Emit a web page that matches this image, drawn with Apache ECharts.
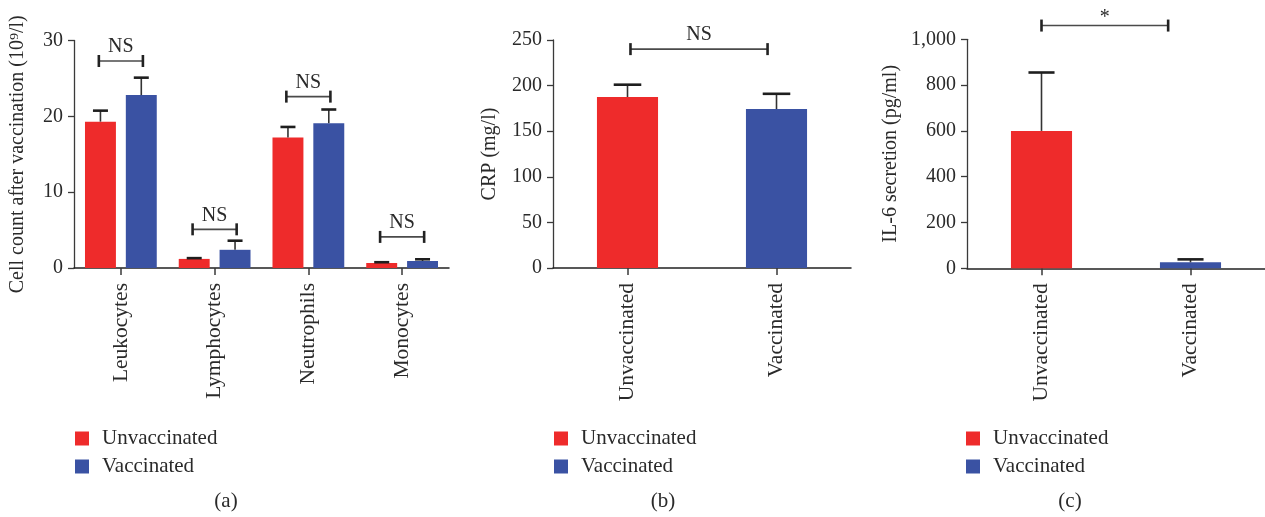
<!DOCTYPE html>
<html><head><meta charset="utf-8">
<script src="https://cdn.jsdelivr.net/npm/echarts@6/dist/echarts.min.js"></script>
<style>html,body{margin:0;padding:0;background:#fff}#c{width:1265px;height:517px}</style>
</head><body><div id="c"></div>
<script>
// ---- data ----
const cellCategories = ['Leukocytes', 'Lymphocytes', 'Neutrophils', 'Monocytes'];
const cellUnvacc = [19.3, 1.2, 17.2, 0.66];
const cellUnvaccErr = [1.45, 0.1, 1.4, 0.1];
const cellVacc = [22.8, 2.4, 19.1, 0.92];
const cellVaccErr = [2.3, 1.2, 1.8, 0.23];
const cellSigLevels = [27.3, 5.1, 22.6, 4.1];
const cellSigLabels = ['NS', 'NS', 'NS', 'NS'];

const groupCategories = ['Unvaccinated', 'Vaccinated'];
const crpMeans = [187.5, 174.3];
const crpErr = [13.5, 16.7];
const crpSig = [0.02, 0.94, 240];
const crpSigLabel = 'NS';

const il6Means = [600, 26];
const il6Err = [255, 13];
const il6Sig = [0, 0.85, 1060];
const il6SigLabel = '*';

const cellTicks = [0, 10, 20, 30];
const crpTicks = [0, 50, 100, 150, 200, 250];
const il6Ticks = [0, 200, 400, 600, 800, 1000];

// ---- style ----
const FONT = "'Liberation Serif', 'DejaVu Serif', serif";
const RED = '#EE2B2B';
const BLUE = '#3A52A3';
const TXT = '#2a2a2a';
const AX = '#3a3a3a';

function yAxis(idx, name, ticks, gap, fmt) {
  return {
    type: 'value', gridIndex: idx, min: ticks[0], max: ticks[ticks.length - 1],
    interval: ticks[1] - ticks[0],
    name: name, nameLocation: 'middle', nameGap: gap,
    nameTextStyle: { fontFamily: FONT, fontSize: 20, color: TXT },
    axisLine: { show: true, lineStyle: { color: AX, width: 1.3 } },
    axisTick: { show: true, length: 6, lineStyle: { color: AX, width: 1.3 } },
    axisLabel: { fontFamily: FONT, fontSize: 20, color: TXT, margin: 11, formatter: fmt },
    splitLine: { show: false }
  };
}
function xAxis(idx, cats) {
  return {
    type: 'category', gridIndex: idx, data: cats,
    axisLine: { show: true, lineStyle: { color: '#222', width: 1.5 } },
    axisTick: { show: true, alignWithLabel: true, length: 7, lineStyle: { color: AX, width: 1.5 } },
    axisLabel: { rotate: 90, fontFamily: FONT, fontSize: 21.5, color: TXT, margin: 15 }
  };
}

function errorSeries(idx, means, errs, offset, capFrac) {
  return {
    type: 'custom', xAxisIndex: idx, yAxisIndex: idx, z: 5, clip: false, silent: true,
    encode: { x: 0, y: 1 },
    data: means.map((m, i) => [i, m, errs[i]]),
    renderItem: function (params, api) {
      const i = api.value(0), m = api.value(1), e = api.value(2);
      const p = api.coord([i, m]);
      const q = api.coord([i, m + e]);
      const bw = api.size([1, 0])[0];
      const x = p[0] + offset * bw;
      const h = capFrac * bw / 2;
      return {
        type: 'group', children: [
          { type: 'line', shape: { x1: x, y1: p[1], x2: x, y2: q[1] }, style: { stroke: '#333', lineWidth: 1.6 } },
          { type: 'line', shape: { x1: x - h, y1: q[1], x2: x + h, y2: q[1] }, style: { stroke: '#1e1e1e', lineWidth: 2.6 } }
        ]
      };
    }
  };
}

function bracketShape(x1, x2, y, label) {
  const star = label === '*';
  return {
    type: 'group', children: [
      { type: 'line', shape: { x1: x1, y1: y, x2: x2, y2: y }, style: { stroke: '#4a4a4a', lineWidth: 1.6 } },
      { type: 'line', shape: { x1: x1, y1: y - 6, x2: x1, y2: y + 6 }, style: { stroke: '#222', lineWidth: 2.6 } },
      { type: 'line', shape: { x1: x2, y1: y - 6, x2: x2, y2: y + 6 }, style: { stroke: '#222', lineWidth: 2.6 } },
      { type: 'text', style: { text: label, x: (x1 + x2) / 2, y: star ? y - 8 : y - 14, align: 'center', verticalAlign: 'middle',
        fontFamily: FONT, fontSize: 20, fill: TXT } }
    ]
  };
}

function cellBracketSeries() {
  return {
    type: 'custom', xAxisIndex: 0, yAxisIndex: 0, z: 6, clip: false, silent: true,
    encode: { x: 0, y: 1 },
    data: cellSigLevels.map((l, i) => [i, l]),
    renderItem: function (params, api) {
      const p = api.coord([api.value(0), api.value(1)]);
      const bw = api.size([1, 0])[0];
      return bracketShape(p[0] - 0.235 * bw, p[0] + 0.235 * bw, p[1], cellSigLabels[params.dataIndex]);
    }
  };
}
function pairBracketSeries(idx, sig, label) {
  return {
    type: 'custom', xAxisIndex: idx, yAxisIndex: idx, z: 6, clip: false, silent: true,
    encode: { x: 0, y: 2 },
    data: [sig],
    renderItem: function (params, api) {
      const a = api.coord([0, api.value(2)]);
      const b = api.coord([1, api.value(2)]);
      const x1 = a[0] + api.value(0) * (b[0] - a[0]);
      const x2 = a[0] + api.value(1) * (b[0] - a[0]);
      return bracketShape(x1, x2, a[1], label);
    }
  };
}

function legend(left) {
  return {
    left: left, top: 428, orient: 'vertical', itemWidth: 14, itemHeight: 14, itemGap: 7,
    icon: 'rect', selectedMode: false, padding: 0,
    data: ['Unvaccinated', 'Vaccinated'],
    textStyle: { fontFamily: FONT, fontSize: 21, color: TXT, padding: [0, 0, 0, 8], lineHeight: 20 }
  };
}

function panelTitle(text, x) {
  return { text: text, left: x, top: 491, textAlign: 'center', padding: 0,
    textStyle: { fontFamily: FONT, fontSize: 21, fontWeight: 'normal', color: TXT } };
}

const chart = echarts.init(document.getElementById('c'), null, { renderer: 'canvas' });
chart.setOption({
  animation: false,
  textStyle: { fontFamily: FONT },
  title: [panelTitle('(a)', 226), panelTitle('(b)', 663), panelTitle('(c)', 1070)],
  legend: [legend(75), legend(554), legend(966)],
  grid: [
    { left: 74, top: 40.5, width: 375, height: 227.5 },
    { left: 553, top: 40, width: 298, height: 228 },
    { left: 967, top: 39.3, width: 298, height: 229 }
  ],
  xAxis: [xAxis(0, cellCategories), xAxis(1, groupCategories), xAxis(2, groupCategories)],
  yAxis: [
    yAxis(0, 'Cell count after vaccination (10\u2079/l)', cellTicks, 46),
    yAxis(1, 'CRP (mg/l)', crpTicks, 53),
    yAxis(2, 'IL-6 secretion (pg/ml)', il6Ticks, 66, v => v.toLocaleString('en-US'))
  ],
  series: [
    { name: 'Unvaccinated', type: 'bar', xAxisIndex: 0, yAxisIndex: 0, data: cellUnvacc, barWidth: '33%', barGap: '32%', itemStyle: { color: RED } },
    { name: 'Vaccinated', type: 'bar', xAxisIndex: 0, yAxisIndex: 0, data: cellVacc, barWidth: '33%', barGap: '32%', itemStyle: { color: BLUE } },
    errorSeries(0, cellUnvacc, cellUnvaccErr, -0.2178, 0.16),
    errorSeries(0, cellVacc, cellVaccErr, 0.2178, 0.16),
    cellBracketSeries(),

    { name: 'Unvaccinated', type: 'bar', xAxisIndex: 1, yAxisIndex: 1, data: [crpMeans[0], '-'], barWidth: '41%', barGap: '-100%', itemStyle: { color: RED } },
    { name: 'Vaccinated', type: 'bar', xAxisIndex: 1, yAxisIndex: 1, data: ['-', crpMeans[1]], barWidth: '41%', barGap: '-100%', itemStyle: { color: BLUE } },
    errorSeries(1, crpMeans, crpErr, 0, 0.185),
    pairBracketSeries(1, crpSig, crpSigLabel),

    { name: 'Unvaccinated', type: 'bar', xAxisIndex: 2, yAxisIndex: 2, data: [il6Means[0], '-'], barWidth: '41%', barGap: '-100%', itemStyle: { color: RED } },
    { name: 'Vaccinated', type: 'bar', xAxisIndex: 2, yAxisIndex: 2, data: ['-', il6Means[1]], barWidth: '41%', barGap: '-100%', itemStyle: { color: BLUE } },
    errorSeries(2, il6Means, il6Err, 0, 0.175),
    pairBracketSeries(2, il6Sig, il6SigLabel)
  ]
});
</script>
</body></html>
